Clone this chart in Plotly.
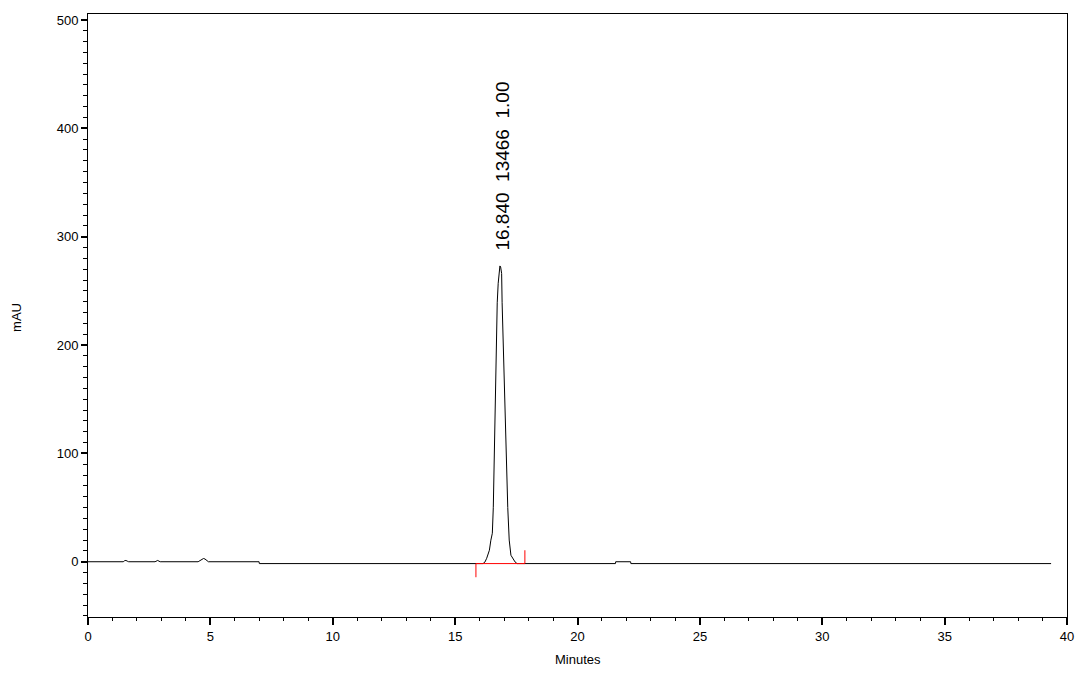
import plotly.graph_objects as go

# Chromatogram trace (minutes, mAU)
time_min = [0.0, 1.44, 1.5, 1.55, 1.6, 1.66, 2.74, 2.8, 2.85, 2.9, 2.95,
            4.5, 4.58, 4.66, 4.72, 4.78, 4.86, 4.92, 6.99, 7.0,
            16.14, 16.22, 16.29, 16.40, 16.46, 16.52, 16.56, 16.60, 16.67,
            16.72, 16.76, 16.80, 16.83, 16.86, 16.90, 16.92, 16.99, 17.07,
            17.15, 17.21, 17.28, 17.45, 17.53,
            21.55, 21.56, 22.17, 22.18, 39.35]
signal_mau = [0.0, 0.0, 1.0, 1.2, 0.6, 0.0, 0.0, 1.0, 1.2, 0.5, 0.0,
              0.0, 1.0, 2.6, 3.0, 2.5, 0.6, 0.0, 0.0, -1.7,
              -1.7, -0.2, 3.2, 10.6, 19.9, 26.3, 50.3, 103, 177,
              239, 257, 272, 273, 272, 266, 239, 180, 112,
              50, 20, 6, -0.2, -1.7,
              -1.7, 0.0, 0.0, -1.7, -1.7]

# Integration baseline marker (start / end of peak)
integ_time = [15.85, 15.85, 17.85, 17.85]
integ_mau = [-14.3, -1.7, -1.7, 10.6]

# Peak label
peak_rt = 16.84
peak_label = "16.840\u00a0 13466\u00a0 1.00"
peak_label_y = 285

FONT = "Liberation Sans, Arial"

fig = go.Figure()
fig.add_trace(go.Scatter(x=time_min, y=signal_mau, mode="lines",
                         line=dict(color="black", width=1), showlegend=False,
                         hoverinfo="skip"))
fig.add_trace(go.Scatter(x=integ_time, y=integ_mau, mode="lines",
                         line=dict(color="red", width=1), showlegend=False,
                         hoverinfo="skip"))

fig.add_annotation(x=peak_rt, y=peak_label_y, text=peak_label, textangle=-90,
                   showarrow=False, xanchor="center", yanchor="bottom", xshift=2,
                   font=dict(family=FONT, size=19, color="black"))

fig.add_annotation(xref="paper", yref="paper", x=0.5, y=-0.0713, text="Minutes",
                   showarrow=False, xanchor="center", yanchor="middle",
                   font=dict(family=FONT, size=13, color="black"))
fig.add_annotation(xref="paper", yref="paper", x=-0.0725, y=0.496, text="mAU",
                   textangle=-90, showarrow=False, xanchor="center", yanchor="middle",
                   font=dict(family=FONT, size=13, color="black"))

# page body adds an 8px margin, so the figure is sized/positioned to compensate
fig.update_layout(
    width=1079, height=667,
    margin=dict(l=80, r=20, t=6, b=58),
    paper_bgcolor="white", plot_bgcolor="white",
    font=dict(family=FONT, size=13, color="black"),
)
fig.update_xaxes(range=[0, 40], tickmode="linear", tick0=0, dtick=5,
                 ticks="outside", ticklen=7, tickwidth=2, tickcolor="black",
                 showline=True, linecolor="black", linewidth=1, mirror=True,
                 showgrid=False, zeroline=False,
                 minor=dict(dtick=1, ticks="outside", ticklen=3, tickwidth=1,
                            tickcolor="black", showgrid=False))
fig.update_yaxes(range=[-51, 505.5], tickmode="linear", tick0=0, dtick=100,
                 ticks="outside", ticklen=6, tickwidth=2, tickcolor="black",
                 showline=True, linecolor="black", linewidth=1, mirror=True,
                 showgrid=False, zeroline=False,
                 minor=dict(dtick=10, ticks="outside", ticklen=4, tickwidth=1,
                            tickcolor="black", showgrid=False))

fig.write_html("out.html")
